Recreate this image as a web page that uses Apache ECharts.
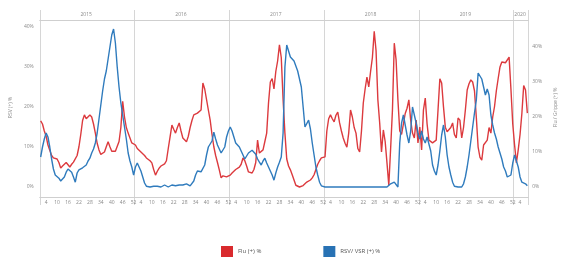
<!DOCTYPE html>
<html>
<head>
<meta charset="utf-8">
<script src="https://cdn.jsdelivr.net/npm/echarts@6/dist/echarts.min.js"></script>
<style>
  html, body { margin: 0; padding: 0; background: #fff; }
  #chart { width: 566px; height: 257px; }
</style>
</head>
<body>
<div id="chart"></div>
<script>
// Années et semaines
const years = ['2015', '2016', '2017', '2018', '2019', '2020'];
const weeksInYear = [52, 52, 52, 52, 52, 8];
const weekTicks = [4, 10, 16, 22, 28, 34, 40, 46, 52];
const yTicks = [0, 10, 20, 30, 40];

// Flu (+) % par semaine (axe droit)
const flu2015 = [18.9, 18, 16, 14.5, 12, 10.5, 9, 8.3, 8.6, 8, 7, 5.4, 6, 6.3, 7, 6.5, 5.7, 6.5, 7.1, 7.4, 9, 11.5, 15, 19, 20.6, 19.5, 19.5, 20.6, 20, 18, 15.4, 12.5, 10.6, 9.3, 9.5, 10, 11.5, 12.9, 11.5, 10.2, 10, 10.2, 10.6, 13, 17, 24.5, 20, 17, 15.4, 14, 12.6, 12.6];
const flu2016 = [12, 11, 10.6, 10, 9.5, 9, 8.3, 8, 7.5, 6.9, 5, 3.4, 4.5, 5.4, 6, 6.3, 6.6, 7.5, 11, 14.3, 17.7, 16.5, 15.4, 17, 18.3, 16, 14, 13.5, 12.9, 14.5, 17, 19, 20.6, 21, 21.1, 21, 22, 29.7, 28, 25, 22, 19.1, 15, 11.5, 9, 7, 4.9, 2.6, 3.2, 3.4, 2.9, 3.2];
const flu2017 = [3.4, 4, 4.3, 5, 5.5, 5.7, 6.5, 8.3, 7.5, 6, 4.3, 4.2, 4, 5, 7, 13.4, 9.7, 10, 10.6, 13, 15.4, 24, 30, 31, 28, 33, 36, 40.6, 37, 25, 15.4, 8, 6, 4.9, 3.5, 2, 0.5, 0, 0, 0, 0.4, 0.8, 1.4, 1.7, 2, 2.6, 3.5, 5, 6.5, 7.5, 8.3, 8.5];
const flu2018 = [8.6, 16, 19.5, 20.6, 19.5, 18.6, 20.5, 21.4, 18.3, 16, 14, 12.5, 11.4, 15.4, 22, 20, 17, 15.4, 11, 10, 16, 24, 28, 31.4, 28.6, 33, 37, 44.5, 39, 24.9, 18.3, 10, 16.3, 13, 6.9, 0.5, 11, 22, 41.1, 36.3, 24.9, 16, 15, 18, 21, 22.5, 24.9, 19.1, 15.4, 14, 19.1, 12.6];
const flu2019 = [17.1, 10.6, 22, 25.4, 18, 13.4, 13, 12.6, 13, 13.4, 22, 30.9, 29.7, 22.9, 17.1, 15.8, 15.4, 17, 18.3, 15, 14, 19.7, 19.1, 14, 17, 22, 27.7, 29.5, 30.6, 30, 27.5, 20, 11.4, 8.5, 7.7, 12, 11.5, 13.4, 17, 15.4, 20, 23, 27.5, 31, 34.3, 35.7, 35.7, 35.5, 36, 37.1, 28, 18];
const flu2020 = [12, 6.9, 10.6, 15, 21, 29, 27.7, 21.1];

// RSV/ VSR (+) % par semaine (axe gauche)
const rsv2015 = [7.5, 10, 12, 13.5, 12.5, 10, 7, 4.5, 3, 2.5, 2.2, 1.5, 1.2, 2.5, 3.7, 4.5, 4.2, 3.7, 2.5, 1.2, 3.5, 4.3, 4.7, 4.8, 5, 5.5, 6.5, 7.2, 8.5, 9.5, 11, 13.5, 17, 20.5, 24, 27, 29, 32, 35, 38, 39.5, 36, 30, 25, 21, 18, 15, 12, 8.5, 6.5, 5, 3];
const rsv2016 = [5, 6, 6.2, 4, 2.5, 1, 0.2, 0, 0, 0, 0.2, 0.3, 0.2, 0, 0, 0.3, 0.5, 0.3, 0, 0.2, 0.5, 0.5, 0.3, 0.5, 0.5, 0.8, 0.5, 0.5, 0.8, 0.5, 0.3, 0, 1.5, 3, 4, 4.2, 3.8, 3.7, 5.5, 8, 10, 10.3, 11.5, 13.7, 12, 10.5, 10, 8.5, 8.7, 10, 12.5, 14];
const rsv2017 = [15, 14, 12.5, 11, 10.5, 10, 9, 8.5, 7, 7.2, 8.5, 9, 9.2, 9, 8.2, 7, 6.2, 5.5, 6.5, 7.2, 6, 5, 4, 3, 1.7, 3.5, 5, 6.2, 7.5, 13.5, 30, 35.5, 34, 32.5, 32, 31.5, 31, 29, 28.7, 25, 20, 15, 15.5, 16.7, 14.5, 11, 8, 5, 3, 1.2, 0.3, 0];
const rsv2018 = [0, 0, 0, 0, 0, 0, 0, 0, 0, 0, 0, 0, 0, 0, 0, 0, 0, 0, 0, 0, 0, 0, 0, 0, 0, 0, 0, 0, 0, 0, 0, 0, 0, 0, 0, 0, 0.8, 1, 1.2, 1, 0, 11, 16, 18, 15.5, 13, 11, 14, 20, 19.5, 16, 13.5];
const rsv2019 = [12, 14, 12, 11, 12.5, 13, 9, 5.5, 4, 3, 5.5, 9, 13, 15.5, 12.5, 8, 5, 3, 1.2, 0.2, 0, 0, 0, 0, 0.8, 2.5, 5, 8, 11.5, 15, 18.5, 21.7, 28.5, 28, 27, 25, 23, 24.5, 23, 18, 15.5, 13.5, 12, 10, 8.5, 7, 5, 4, 2.5, 2.2, 3, 6];
const rsv2020 = [8, 6.5, 5, 2.5, 1.2, 1, 0.8, 0.3];

const fluData = [].concat(flu2015, flu2016, flu2017, flu2018, flu2019, flu2020);
const rsvData = [].concat(rsv2015, rsv2016, rsv2017, rsv2018, rsv2019, rsv2020);

// Catégories : une par semaine
const categories = [];
years.forEach((y, k) => {
  for (let w = 1; w <= weeksInYear[k]; w++) categories.push(y + '|' + w);
});

const chart = echarts.init(document.getElementById('chart'));

const small = { fontSize: 5, color: '#8a8a8a', fontFamily: 'Open Sans' };

const option = {
  animation: false,
  textStyle: { fontFamily: 'Open Sans' },
  grid: { left: 30, right: 19, top: 10, bottom: 52 },
  legend: {
    left: 216,
    top: 241,
    icon: 'rect',
    itemWidth: 12,
    itemHeight: 11,
    itemGap: 62,
    textStyle: { fontSize: 6, color: '#555' },
    data: ['Flu (+) %', 'RSV/ VSR (+) %'],
  },
  xAxis: [
    {
      type: 'category',
      data: categories,
      position: 'bottom',
      offset: -8,
      boundaryGap: true,
      axisLine: { onZero: false, lineStyle: { color: '#cfcfcf' } },
      axisTick: { show: false },
      axisLabel: {
        ...small,
        margin: 3,
        interval: (i, v) => weekTicks.includes(+v.split('|')[1]),
        formatter: (v) => v.split('|')[1],
      },
      splitLine: { show: false },
    },
    {
      type: 'category',
      data: categories,
      position: 'top',
      offset: -10,
      boundaryGap: true,
      axisLine: { onZero: false, lineStyle: { color: '#cfcfcf' } },
      axisTick: { show: false },
      axisLabel: {
        ...small,
        margin: 3,
        interval: (i, v) => {
          const [y, w] = v.split('|');
          const n = weeksInYear[years.indexOf(y)];
          return +w === Math.ceil(n / 2);
        },
        formatter: (v) => v.split('|')[0],
      },
      splitLine: {
        show: true,
        interval: (i) => i % 52 === 0,
        lineStyle: { color: '#d6d6d6', width: 1 },
      },
    },
  ],
  yAxis: [
    {
      type: 'value',
      name: 'RSV (+) %',
      nameLocation: 'middle',
      nameGap: 12,
      nameTextStyle: { fontSize: 5, color: '#8a8a8a' },
      min: -4.5,
      max: 44.25,
      axisLine: { show: false },
      axisTick: { show: false },
      splitLine: { show: false },
      axisLabel: { ...small, margin: 6, customValues: yTicks, formatter: '{value}%' },
    },
    {
      type: 'value',
      name: 'Flu / Grippe (+) %',
      nameLocation: 'middle',
      nameGap: 18,
      nameTextStyle: { fontSize: 5, color: '#8a8a8a' },
      min: -18 / 3.5,
      max: 177 / 3.5,
      axisLine: { show: false },
      axisTick: { show: false },
      splitLine: { show: false },
      axisLabel: { ...small, margin: 4, customValues: yTicks, formatter: '{value}%' },
    },
  ],
  series: [
    {
      name: 'Flu (+) %',
      type: 'line',
      xAxisIndex: 0,
      yAxisIndex: 1,
      data: fluData,
      showSymbol: false,
      itemStyle: { color: '#d92a2e' },
      lineStyle: { width: 1.4, color: '#dc3a3e' },
    },
    {
      name: 'RSV/ VSR (+) %',
      type: 'line',
      xAxisIndex: 0,
      yAxisIndex: 0,
      data: rsvData,
      showSymbol: false,
      itemStyle: { color: '#2872b4' },
      lineStyle: { width: 1.4, color: '#2f7bbd' },
    },
  ],
};

chart.setOption(option);
</script>
</body>
</html>
